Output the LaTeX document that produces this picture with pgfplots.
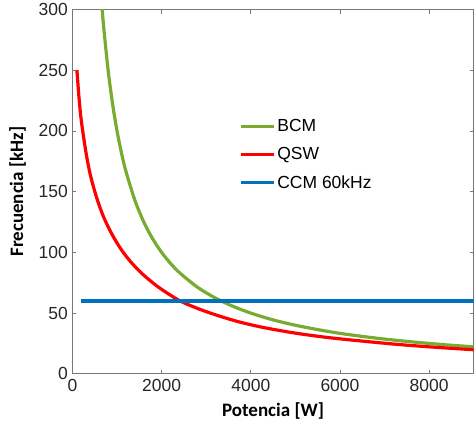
\documentclass[border=0pt]{standalone}
\usepackage{fontspec}
\setmainfont{Liberation Sans}
\newfontfamily\labelfont{Carlito}
\usepackage{pgfplots}
\pgfplotsset{compat=1.18}
\definecolor{bcmGreen}{RGB}{119,172,48}
\definecolor{qswRed}{RGB}{255,0,0}
\definecolor{ccmBlue}{RGB}{0,114,189}
\definecolor{axGray}{RGB}{120,120,120}
\definecolor{tickText}{RGB}{38,38,38}

\begin{document}
\begin{tikzpicture}
\begin{axis}[
  scale only axis,
  width=401.5pt,height=364.5pt,
  xmin=0,xmax=9000,ymin=0,ymax=300,
  xtick={0,2000,4000,6000,8000},
  ytick={0,50,100,150,200,250,300},
  scaled x ticks=false,
  /pgf/number format/set thousands separator={},
  /pgf/number format/assume math mode=true,
  tick align=inside,
  major tick length=4pt,
  axis line style={axGray,line width=0.6pt},
  tick style={axGray,line width=0.6pt},
  tick label style={font=\fontsize{17.5}{20}\selectfont,text=tickText},
  xticklabel style={yshift=-2pt},
  yticklabel style={xshift=-1pt},
  xlabel={\labelfont\bfseries Potencia [W]},
  ylabel={\labelfont\bfseries Frecuencia [kHz]},
  label style={font=\fontsize{19}{22}\selectfont},
  xlabel style={yshift=-4pt},
  ylabel style={yshift=6pt},
  legend image code/.code={\draw[#1] (0pt,0pt) -- (33pt,0pt);},
  legend style={at={(0.41,0.71)},anchor=north west,draw=none,fill=none,
    font=\fontsize{17.5}{20}\selectfont,row sep=10.5pt,inner sep=2pt},
  legend cell align=left,
]
\addplot[bcmGreen,line width=3.2pt,smooth] coordinates {
(660,303.0) (700,285.7) (800,250.0) (900,222.2) (1000,200.0) (1100,181.8)
(1200,166.7) (1400,142.9) (1600,125.0) (1800,111.1) (2000,100.0) (2200,90.9)
(2400,83.3) (2800,71.4) (3200,62.5) (3600,55.6) (4000,50.0) (4500,44.4)
(5000,40.0) (5500,36.4) (6000,33.3) (6500,30.8) (7000,28.6) (7500,26.7)
(8000,25.0) (8500,23.5) (9000,22.2)};
\addlegendentry{BCM}
\addplot[qswRed,line width=3.2pt,smooth] coordinates {
(100,250) (150,226) (200,208) (300,183) (400,164) (543,145) (700,129)
(900,114) (1100,102) (1300,92.5) (1517,84) (1750,76.5) (2000,69.5) (2416,60)
(2865,53) (3300,47.5) (3764,42.5) (4300,38) (5000,33.5) (5700,30)
(6400,27.3) (7200,24.5) (8000,22.2) (9000,19.8)};
\addlegendentry{QSW}
\addplot[ccmBlue,line width=3.2pt] coordinates {(200,60) (9000,60)};
\addlegendentry{CCM 60kHz}
\end{axis}
\path (-72.5pt,-51pt) rectangle (401.5pt,374pt);
\end{tikzpicture}
\end{document}
